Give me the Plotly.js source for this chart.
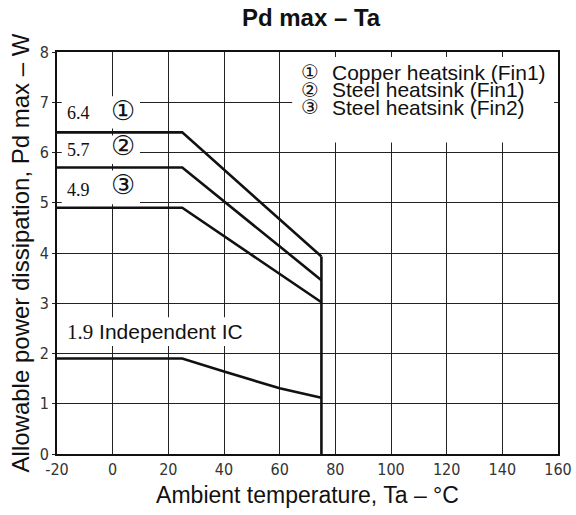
<!DOCTYPE html>
<html>
<head>
<meta charset="utf-8">
<script src="https://cdn.plot.ly/plotly-3.0.1.min.js"></script>
<style>html,body{margin:0;padding:0;background:#fff;}#chart{width:576px;height:515px;}</style>
</head>
<body>
<div id="chart"></div>
<script>
// Data
const copperX = [-20, 25, 75];
const copperY = [6.4, 6.4, 3.93];
const steel1X = [-20, 25, 75];
const steel1Y = [5.7, 5.7, 3.46];
const steel2X = [-20, 25, 75];
const steel2Y = [4.9, 4.9, 3.02];
const icX = [-20, 25, 40, 60, 75];
const icY = [1.9, 1.9, 1.64, 1.31, 1.12];
const cutoffX = [75, 75];
const cutoffY = [3.93, 0];

const xTickVals = [-20, 0, 20, 40, 60, 80, 100, 120, 140, 160];
const xTickText = ['-20', '0', '20', '40', '60', '80', '100', '120', '140', '160'];
const yTickVals = [0, 1, 2, 3, 4, 5, 6, 7, 8];
const yTickText = ['0', '1', '2', '3', '4', '5', '6', '7', '8'];

const legendLines = ['Copper heatsink (Fin1)', 'Steel heatsink (Fin1)', 'Steel heatsink (Fin2)'];
const curveValues = ['6.4', '5.7', '4.9'];
const curveMarks = ['①', '②', '③'];

const lineStyle = {color: '#111', width: 2.6};
const traces = [
  {x: copperX, y: copperY, mode: 'lines', line: lineStyle, name: 'Copper', showlegend: false},
  {x: steel1X, y: steel1Y, mode: 'lines', line: lineStyle, name: 'Steel Fin1', showlegend: false},
  {x: steel2X, y: steel2Y, mode: 'lines', line: lineStyle, name: 'Steel Fin2', showlegend: false},
  {x: icX, y: icY, mode: 'lines', line: lineStyle, name: 'IC', showlegend: false},
  {x: cutoffX, y: cutoffY, mode: 'lines', line: lineStyle, name: 'cutoff', showlegend: false}
];

const tickFont = {family: '"Liberation Sans Narrow", "DejaVu Sans Condensed", "Liberation Sans", sans-serif', size: 16, color: '#333'};
const serif = '"Liberation Serif", "DejaVu Serif", serif';
const sans = '"Liberation Sans", Arial, "DejaVu Sans", sans-serif';
const circ = '"DejaVu Sans", sans-serif';

const numY = [6.79, 6.05, 5.25];
const markY = [6.84, 6.13, 5.37];
const boxY0 = [6.48, 5.77, 4.97];
const boxY1 = [7.12, 6.34, 5.64];
const annotations = [];
const shapes = [];
numY.forEach((ly, i) => {
  shapes.push({type: 'rect', xref: 'x', yref: 'y', x0: -18.3, x1: 9.8, y0: boxY0[i], y1: boxY1[i],
    fillcolor: '#fff', line: {width: 0}, layer: 'above'});
  annotations.push({x: -17.3, y: ly, xref: 'x', yref: 'y', xanchor: 'left', yanchor: 'middle', showarrow: false,
    text: curveValues[i], font: {family: serif, size: 18, color: '#111'}});
  annotations.push({x: 3.7, y: markY[i], xref: 'x', yref: 'y', xanchor: 'center', yanchor: 'middle', showarrow: false,
    text: curveMarks[i], font: {family: circ, size: 27, color: '#111'}});
});
// Independent IC label box
shapes.push({type: 'rect', xref: 'x', yref: 'y', x0: -18.3, x1: 48.3, y0: 2.15, y1: 2.72,
  fillcolor: '#fff', line: {width: 0}, layer: 'above'});
annotations.push({x: -17.3, y: 2.42, xref: 'x', yref: 'y', xanchor: 'left', yanchor: 'middle', showarrow: false,
  text: '<span style="font-family:Liberation Serif">1.9</span> Independent IC', font: {family: sans, size: 21, color: '#111'}});
// Legend box
shapes.push({type: 'rect', xref: 'x', yref: 'y', x0: 64.5, x1: 158.6, y0: 6.2, y1: 7.9,
  fillcolor: '#fff', line: {width: 0}, layer: 'above'});
legendLines.forEach((t, i) => {
  annotations.push({x: 78.6, y: 7.6 - i * 0.35, xref: 'x', yref: 'y', xanchor: 'left', yanchor: 'middle', showarrow: false,
    borderpad: 0, text: t, font: {family: sans, size: 21, color: '#111'}});
  annotations.push({x: 71, y: 7.6 - i * 0.35, xref: 'x', yref: 'y', xanchor: 'center', yanchor: 'middle', showarrow: false,
    borderpad: 0, text: curveMarks[i], font: {family: circ, size: 20, color: '#111'}});
});

const layout = {
  width: 576, height: 515,
  margin: {l: 57, r: 18, t: 52, b: 61},
  paper_bgcolor: '#fff', plot_bgcolor: '#fff',
  title: {text: '<b>Pd max – Ta</b>', x: 0.54, xanchor: 'center', y: 0.965, yanchor: 'middle',
    font: {family: sans, size: 24, color: '#111'}},
  xaxis: {range: [-20, 160], tickvals: xTickVals, ticktext: xTickText, tickfont: tickFont,
    showgrid: true, gridcolor: '#222', gridwidth: 1, zeroline: false,
    showline: true, linecolor: '#111', linewidth: 2, mirror: true, ticks: '', ticklen: 0,
    title: {text: 'Ambient temperature, Ta – °C', font: {family: sans, size: 23, color: '#111'}, standoff: 9}},
  yaxis: {range: [0, 8], tickvals: yTickVals, ticktext: yTickText, tickfont: tickFont,
    showgrid: true, gridcolor: '#222', gridwidth: 1, zeroline: false,
    showline: true, linecolor: '#111', linewidth: 2, mirror: true, ticks: 'outside', ticklen: 3, tickcolor: '#222',
    title: {text: 'Allowable power dissipation, Pd max – W', font: {family: sans, size: 24, color: '#111'}, standoff: 3}},
  shapes: shapes,
  annotations: annotations
};

Plotly.newPlot('chart', traces, layout, {staticPlot: true, displayModeBar: false});
</script>
</body>
</html>
